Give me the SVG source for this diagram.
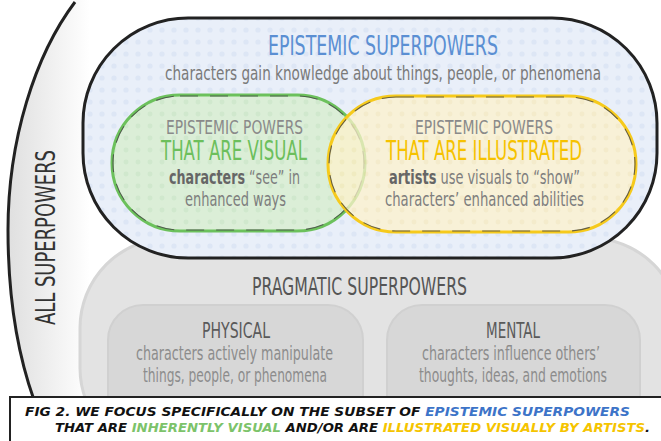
<svg xmlns="http://www.w3.org/2000/svg" width="661" height="441" viewBox="0 0 661 441">
<defs>
<linearGradient id="allgrad" gradientUnits="userSpaceOnUse" x1="5" y1="0" x2="90" y2="0">
<stop offset="0" stop-color="#dedede"/><stop offset="1" stop-color="#ffffff"/>
</linearGradient>
<pattern id="bdots" width="12" height="12" patternUnits="userSpaceOnUse">
<rect width="12" height="12" fill="#e9eff9"/>
<circle cx="6" cy="6" r="2.6" fill="#dde6f5"/>
</pattern>
<pattern id="gdots" width="12" height="12" patternUnits="userSpaceOnUse">
<rect width="12" height="12" fill="#d9eed3"/>
<circle cx="6" cy="6" r="2.4" fill="#cfe8c8"/>
</pattern>
<pattern id="ydots" width="12" height="12" patternUnits="userSpaceOnUse">
<rect width="12" height="12" fill="#fdf2cc"/>
<circle cx="6" cy="6" r="2.4" fill="#fbecbd"/>
</pattern>
</defs>
<style>
.cond{font-family:"Liberation Sans Narrow","DejaVu Sans Condensed","Liberation Sans",sans-serif;}
.cap{font-family:"DejaVu Sans","Liberation Sans",sans-serif;font-weight:bold;font-style:italic;font-size:12.5px;}
.sketch{fill:none;stroke:#222;stroke-linejoin:round;}
.dash{fill:none;stroke:#444;stroke-width:1.1;stroke-dasharray:18 12;opacity:0.8;}
</style>

<g id="all-superpowers">
<path d="M75,0 C35,55 8,140 8,230 C8,300 18,355 34,400 L661,400 L661,0 Z" fill="url(#allgrad)"/>
<path class="sketch" d="M75,2 C35,55 8,140 8,230 C8,300 18,355 34,400" stroke-width="3"/>
<text class="cond" transform="translate(55,325) rotate(-90)" font-size="26" fill="#333" textLength="175" lengthAdjust="spacingAndGlyphs">ALL SUPERPOWERS</text>
</g>

<g id="pragmatic">
<rect x="80" y="238" width="600" height="220" rx="90" fill="#e3e3e3" stroke="#d6d6d6" stroke-width="3"/>
<text class="cond" x="359.5" y="295" text-anchor="middle" font-size="24" fill="#555" textLength="215" lengthAdjust="spacingAndGlyphs">PRAGMATIC SUPERPOWERS</text>
</g>

<g id="physical">
<rect x="108" y="305" width="255" height="130" rx="35" fill="#d7d7d7" stroke="#d0d0d0" stroke-width="2"/>
<text class="cond" x="236" y="338" text-anchor="middle" font-size="22" fill="#5a5a5a" textLength="68" lengthAdjust="spacingAndGlyphs">PHYSICAL</text>
<text class="cond" x="234.5" y="360" text-anchor="middle" font-size="19" fill="#8c8c8c" textLength="197" lengthAdjust="spacingAndGlyphs">characters actively manipulate</text>
<text class="cond" x="235" y="382" text-anchor="middle" font-size="19" fill="#8c8c8c" textLength="184" lengthAdjust="spacingAndGlyphs">things, people, or phenomena</text>
</g>

<g id="mental">
<rect x="387" y="305" width="253" height="130" rx="35" fill="#d7d7d7" stroke="#d0d0d0" stroke-width="2"/>
<text class="cond" x="513" y="338" text-anchor="middle" font-size="22" fill="#5a5a5a" textLength="54" lengthAdjust="spacingAndGlyphs">MENTAL</text>
<text class="cond" x="511" y="360" text-anchor="middle" font-size="19" fill="#8c8c8c" textLength="178" lengthAdjust="spacingAndGlyphs">characters influence others’</text>
<text class="cond" x="513" y="382" text-anchor="middle" font-size="19" fill="#8c8c8c" textLength="188" lengthAdjust="spacingAndGlyphs">thoughts, ideas, and emotions</text>
</g>

<g id="epistemic">
<rect x="83" y="18" width="574" height="240" rx="105" fill="url(#bdots)"/>
<rect x="83" y="18" width="574" height="240" rx="105" class="sketch" stroke-width="3"/>
<text class="cond" x="383" y="55" text-anchor="middle" font-size="26" fill="#5b8fd3" textLength="230" lengthAdjust="spacingAndGlyphs">EPISTEMIC SUPERPOWERS</text>
<text class="cond" x="383" y="80" text-anchor="middle" font-size="19" fill="#7a7a7a" textLength="436" lengthAdjust="spacingAndGlyphs">characters gain knowledge about things, people, or phenomena</text>
</g>

<g id="visual">
<rect x="112" y="95" width="253" height="136" rx="68" fill="url(#gdots)" opacity="0.9"/>
<rect x="112" y="95" width="253" height="136" rx="68" fill="none" stroke="#6cc15c" stroke-width="3"/>
<rect x="113" y="96" width="251" height="134" rx="67" class="dash"/>
</g>

<g id="illustrated">
<rect x="328" y="96" width="308" height="136" rx="68" fill="url(#ydots)" opacity="0.75"/>
<rect x="328" y="96" width="308" height="136" rx="68" fill="none" stroke="#f6ca1c" stroke-width="3"/>
<rect x="329" y="97" width="306" height="134" rx="67" class="dash"/>
</g>

<g id="visual-text">
<text class="cond" x="234.5" y="134" text-anchor="middle" font-size="19" fill="#8a8a8a" textLength="137" lengthAdjust="spacingAndGlyphs">EPISTEMIC POWERS</text>
<text class="cond" x="234" y="160" text-anchor="middle" font-size="26" fill="#6cbf5c" textLength="146" lengthAdjust="spacingAndGlyphs">THAT ARE VISUAL</text>
<text class="cond" x="234.5" y="184" text-anchor="middle" font-size="19" fill="#7e7e7e" textLength="131" lengthAdjust="spacingAndGlyphs"><tspan font-weight="bold" fill="#666">characters</tspan> “see” in</text>
<text class="cond" x="235.5" y="206" text-anchor="middle" font-size="19" fill="#7e7e7e" textLength="101" lengthAdjust="spacingAndGlyphs">enhanced ways</text>
</g>

<g id="illustrated-text">
<text class="cond" x="484" y="134" text-anchor="middle" font-size="19" fill="#8a8a8a" textLength="138" lengthAdjust="spacingAndGlyphs">EPISTEMIC POWERS</text>
<text class="cond" x="484" y="160" text-anchor="middle" font-size="26" fill="#f6c200" textLength="196" lengthAdjust="spacingAndGlyphs">THAT ARE ILLUSTRATED</text>
<text class="cond" x="484.5" y="184" text-anchor="middle" font-size="19" fill="#7e7e7e" textLength="191" lengthAdjust="spacingAndGlyphs"><tspan font-weight="bold" fill="#666">artists</tspan> use visuals to “show”</text>
<text class="cond" x="484.5" y="206" text-anchor="middle" font-size="19" fill="#7e7e7e" textLength="199" lengthAdjust="spacingAndGlyphs">characters’ enhanced abilities</text>
</g>

<g id="caption">
<rect x="10" y="397" width="654" height="46" fill="#ffffff" stroke="#222" stroke-width="2"/>
<text class="cap" x="25" y="416" fill="#111" textLength="605" lengthAdjust="spacingAndGlyphs">FIG 2. WE FOCUS SPECIFICALLY ON THE SUBSET OF <tspan fill="#3d74c8">EPISTEMIC SUPERPOWERS</tspan></text>
<text class="cap" x="55" y="432" fill="#111" textLength="595" lengthAdjust="spacingAndGlyphs">THAT ARE <tspan fill="#7cc36a">INHERENTLY VISUAL</tspan> AND/OR ARE <tspan fill="#f5c400">ILLUSTRATED VISUALLY BY ARTISTS</tspan>.</text>
</g>
</svg>
